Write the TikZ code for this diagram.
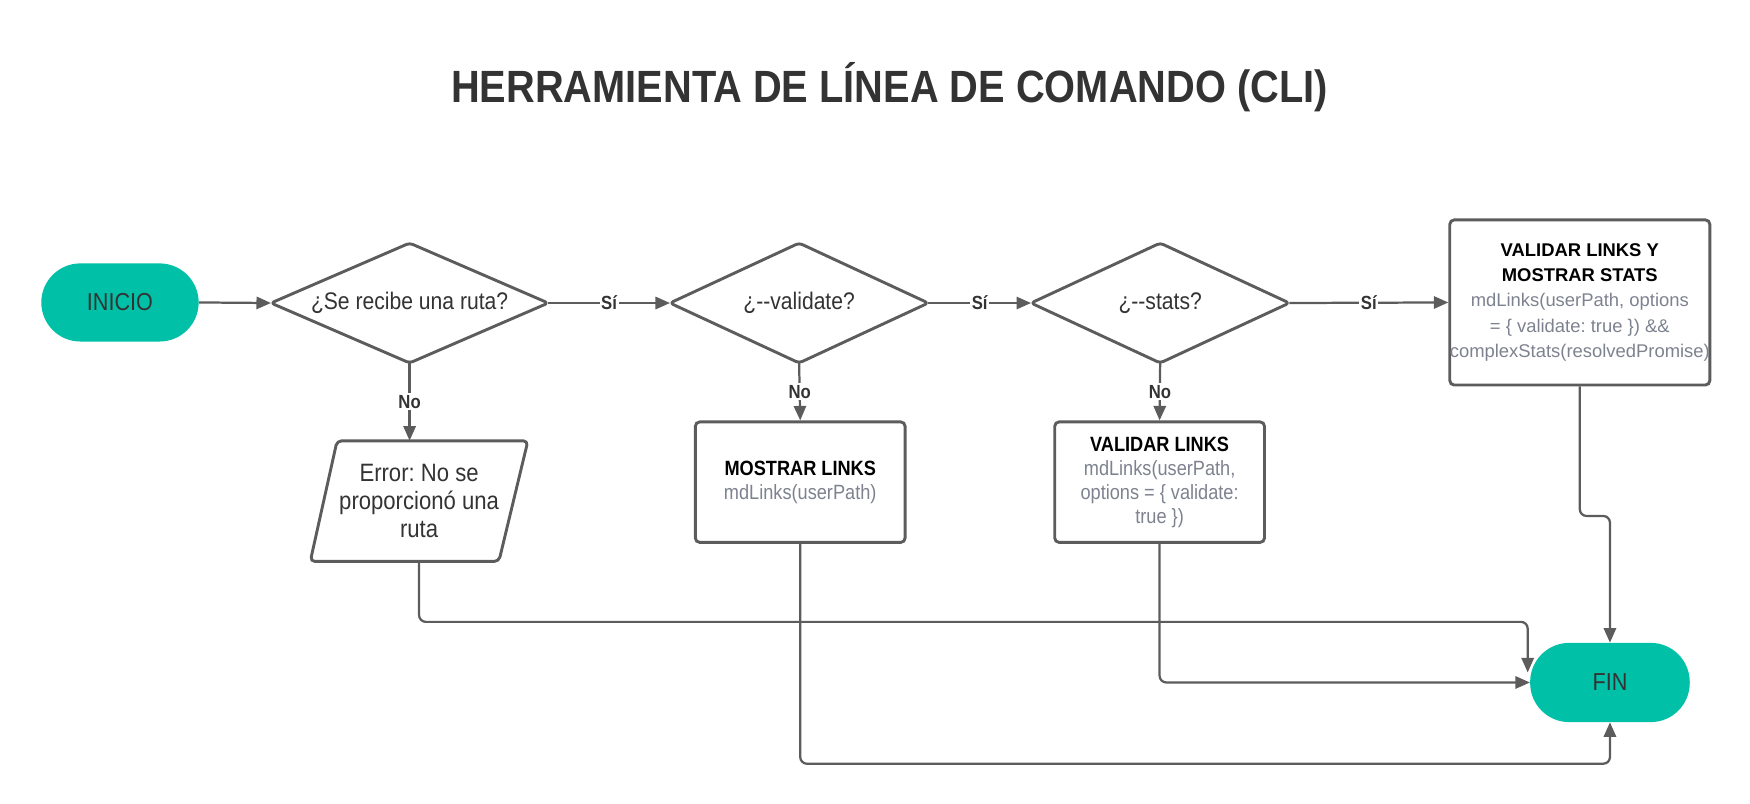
\documentclass[tikz,border=0pt]{standalone}
\usepackage{fontspec}
\setmainfont{Liberation Sans}
\newfontfamily\cond[FakeStretch=0.88]{Liberation Sans}
\usetikzlibrary{arrows.meta,calc}
\definecolor{teal1}{RGB}{0,193,167}
\definecolor{lineg}{RGB}{92,92,92}
\definecolor{txt}{RGB}{51,51,51}
\definecolor{codeg}{RGB}{125,130,143}
\tikzset{
  term/.style={rectangle, rounded corners=35pt, fill=teal1, draw=none,
    minimum width=141pt, minimum height=70pt, inner sep=0pt, text=txt,
    font=\cond\fontsize{22}{26}\selectfont},
  dia/.style={rectangle, draw=none,
    minimum width=248pt, minimum height=107pt, inner sep=0pt, text=txt,
    font=\cond\fontsize{21.5}{26}\selectfont},
  procbox/.style={rectangle, rounded corners=4pt, draw=lineg, line width=2.6pt,
    minimum width=188pt, minimum height=108pt, inner sep=0pt, align=center,
    font=\cond\fontsize{18.5}{21.5}\selectfont},
  bigbox/.style={rectangle, rounded corners=4pt, draw=lineg, line width=2.6pt,
    minimum width=233pt, minimum height=148pt, inner sep=0pt, align=center,
    font=\fontsize{16.5}{22.5}\selectfont},
  paratext/.style={rectangle, draw=none, minimum width=170pt, minimum height=108pt,
    inner sep=0pt, align=center, text=txt, font=\cond\fontsize{22.5}{25}\selectfont},
  shapeline/.style={draw=lineg, line width=2.6pt, line join=round, rounded corners=4pt},
  conn/.style={draw=lineg, line width=2pt, -{Triangle[length=13pt,width=11pt]}},
  lbl/.style={fill=white, inner sep=1.5pt, text=txt,
    font=\cond\bfseries\fontsize{17}{20}\selectfont},
  titlestyle/.style={text=txt, inner sep=0pt,
    font=\cond\bfseries\fontsize{40.5}{48}\selectfont},
}
\newcommand{\codetxt}[1]{\textcolor{codeg}{#1}}
\newcommand{\diaborder}[1]{\draw[shapeline, rounded corners=3pt] (#1.west) -- (#1.north) -- (#1.east) -- (#1.south) -- cycle;}
\begin{document}
\frenchspacing
\begin{tikzpicture}[x=1pt,y=-1pt]
\useasboundingbox (0,0) rectangle (1568,719.5);
\node[titlestyle] (title) at (797,78) {HERRAMIENTA DE LÍNEA DE COMANDO (CLI)};

\node[term] (ini) at (107.5,271) {INICIO};
\node[dia] (d1) at (367,271.5) {¿Se recibe una ruta?};
\node[dia, minimum width=231pt] (d2) at (716,271.5) {¿{-}{-}validate?};
\node[dia, minimum width=231pt] (d3) at (1039.5,271.5) {¿{-}{-}stats?};
\diaborder{d1}
\diaborder{d2}
\diaborder{d3}
\node[bigbox] (b4) at (1415.5,271) {\textbf{VALIDAR LINKS Y}\\\textbf{MOSTRAR STATS}\\\codetxt{mdLinks(userPath, options}\\\codetxt{= \{ validate: true \}) \&\&}\\\codetxt{complexStats(resolvedPromise)}};

\node[paratext] (err) at (375.5,449) {Error: No se\\proporcionó una\\ruta};
\draw[shapeline] (302,395) -- (473,395) -- (447,503) -- (278,503) -- cycle;

\node[procbox] (b2) at (717,432) {\textbf{MOSTRAR LINKS}\\\codetxt{mdLinks(userPath)}};
\node[procbox] (b3) at (1039,432) {\textbf{VALIDAR LINKS}\\\codetxt{mdLinks(userPath,}\\\codetxt{options = \{ validate:}\\\codetxt{true \})}};

\node[term, minimum width=143pt, minimum height=71pt] (fin) at (1442.5,611.5) {FIN};
\coordinate (finin) at ($(fin.west)+(-2,-9)$);

\draw[conn] (ini.east) -- (d1.west);
\draw[conn] (d1.east) -- node[lbl]{Sí} (d2.west);
\draw[conn] (d2.east) -- node[lbl]{Sí} (d3.west);
\draw[conn] (d3.east) -- node[lbl]{Sí} (b4.west);
\draw[conn] (d1.south) -- node[lbl]{No} (d1.south |- err.north);
\draw[conn] (d2.south) -- node[lbl]{No} (b2.north);
\draw[conn] (d3.south) -- node[lbl]{No} (b3.north);

\draw[conn, rounded corners=6pt] (err.south) -- ++(0,54) -| (finin);
\draw[conn, rounded corners=6pt] (b3.south) |- (fin.west);
\draw[conn, rounded corners=6pt] (b2.south) -- ++(0,197) -| (fin.south);
\draw[conn, rounded corners=6pt] (b4.south) -- ++(0,116) -| (fin.north);
\end{tikzpicture}
\end{document}
